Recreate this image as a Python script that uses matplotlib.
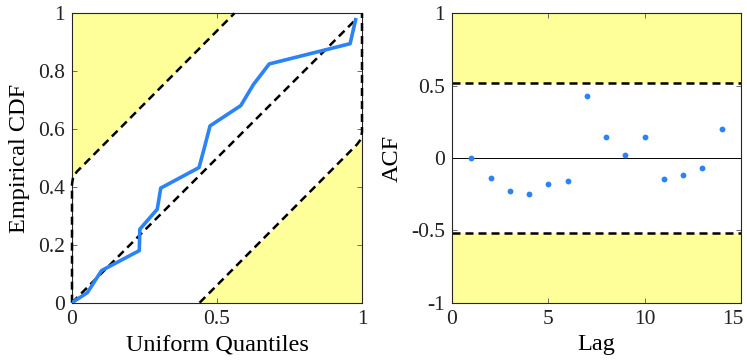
import matplotlib
matplotlib.use("Agg")
import matplotlib.pyplot as plt
import matplotlib.transforms as mtransforms
import numpy as np

plt.rcParams['font.family'] = ['Liberation Serif', 'DejaVu Serif']

# Left panel data: empirical CDF vs uniform quantiles
ecdf_x = [0.0, 0.053, 0.102, 0.232, 0.234, 0.294, 0.306, 0.438, 0.455, 0.476, 0.582, 0.625, 0.680, 0.959, 0.978]
ecdf_y = [0.0, 0.035, 0.111, 0.180, 0.254, 0.323, 0.396, 0.467, 0.530, 0.611, 0.681, 0.753, 0.825, 0.895, 0.978]
diag_x = [0.0, 0.978]
diag_y = [0.0, 0.978]
upper_x = [0.0, 0.0, 0.004, 0.017, 0.56]
upper_y = [0.0, 0.41, 0.435, 0.453, 1.0]
lower_x = [0.44, 0.983, 0.996, 1.0, 1.0]
lower_y = [0.0, 0.547, 0.565, 0.59, 1.0]

# Right panel data: autocorrelation
lags = list(range(1, 15))
acf = [0.0, -0.136, -0.226, -0.251, -0.180, -0.161, 0.426, 0.147, 0.021, 0.147, -0.143, -0.118, -0.067, 0.198]
conf = 0.52

blue = '#2b83f6'
yellow = '#ffff99'
spine_c = '#262626'

fig = plt.figure(figsize=(7.47, 3.60), dpi=100)
ax1 = fig.add_axes([72/747, 1-302.7/360, 290/747, 289.4/360])
ax2 = fig.add_axes([452/747, 1-302.7/360, 289/747, 289.4/360])

# Left
ax1.fill_between(upper_x, upper_y, 1, color=yellow, linewidth=0)
ax1.fill_between(lower_x, 0, lower_y, color=yellow, linewidth=0)
for bx, by in ((upper_x, upper_y), (lower_x, lower_y), (diag_x, diag_y)):
    ax1.plot(bx, by, 'k--', lw=1.8, dashes=(3.2, 2.0), clip_on=False, zorder=3)
ax1.plot(ecdf_x, ecdf_y, color=blue, lw=2.6, solid_joinstyle='round', zorder=4)
ax1.set_xlim(0, 1)
ax1.set_ylim(0, 1)
ax1.set_xticks([0, 0.5, 1])
ax1.set_xticklabels(['0', '0.5', '1'])
ax1.set_yticks([0, 0.2, 0.4, 0.6, 0.8, 1])
ax1.set_yticklabels(['0', '0.2', '0.4', '0.6', '0.8', '1'])
ax1.set_xlabel('Uniform Quantiles', fontsize=17.5, labelpad=4)
ax1.set_ylabel('Empirical CDF', fontsize=17.5, labelpad=6)

# Right
ax2.axhspan(conf, 1, color=yellow, linewidth=0)
ax2.axhspan(-1, -conf, color=yellow, linewidth=0)
ax2.axhline(conf, color='k', ls='--', lw=1.8, dashes=(3.2, 2.0))
ax2.axhline(-conf, color='k', ls='--', lw=1.8, dashes=(3.2, 2.0))
ax2.axhline(0, color='k', lw=0.7)
ax2.plot(lags, acf, 'o', color=blue, ms=4.2, mec='none')
ax2.set_xlim(0, 15)
ax2.set_ylim(-1, 1)
ax2.set_xticks([0, 5, 10, 15])
ax2.set_yticks([-1, -0.5, 0, 0.5, 1])
ax2.set_yticklabels(['-1', '-0.5', '0', '0.5', '1'])
ax2.set_xlabel('Lag', fontsize=17.5, labelpad=4)
ax2.set_ylabel('ACF', fontsize=17.5, labelpad=6)

for ax in (ax1, ax2):
    for s in ax.spines.values():
        s.set_color(spine_c)
        s.set_linewidth(0.8)
    ax.tick_params(direction='in', top=True, right=True, length=3.5, width=0.6,
                   color='#555555', labelsize=15.5, pad=5, labelcolor='#222222')

# keep the last x tick label of the right panel inside the figure
last = ax2.get_xticklabels()[-1]
last.set_transform(last.get_transform() + mtransforms.ScaledTranslation(-8/100, 0, fig.dpi_scale_trans))

fig.savefig('out.png', dpi=100)
